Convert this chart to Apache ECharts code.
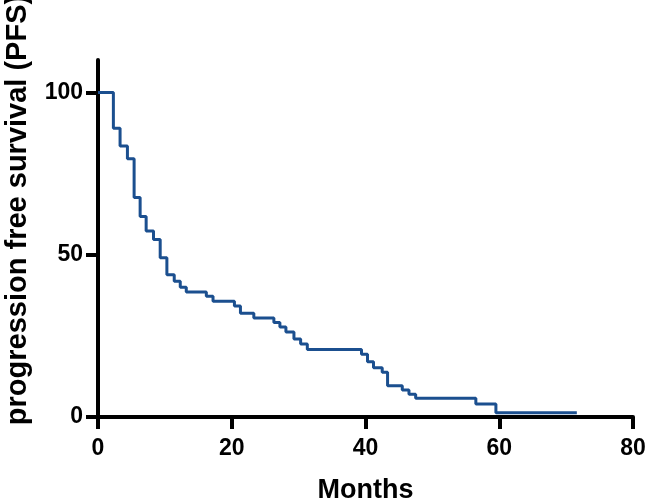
<!DOCTYPE html>
<html>
<head>
<meta charset="utf-8">
<script src="https://cdn.jsdelivr.net/npm/echarts@6/dist/echarts.min.js"></script>
<style>
html,body{margin:0;padding:0;background:#fff;}
#chart{width:650px;height:503px;}
</style>
</head>
<body>
<div id="chart"></div>
<script>
// Kaplan-Meier step points: time (months) and survival (%) after each drop
const months = [0, 2.3, 3.3, 4.4, 5.4, 6.3, 7.2, 8.3, 9.3, 10.3, 11.4, 12.3, 13.2, 16.2, 17.2, 20.4, 21.3, 23.3, 26.3, 27.2, 28.1, 29.3, 30.3, 31.3, 39.4, 40.3, 41.2, 42.5, 43.3, 45.5, 46.5, 47.5, 56.5, 59.5, 71.6];
const pfs = [100, 89.0, 83.5, 79.6, 67.6, 61.8, 57.3, 54.7, 49.1, 43.8, 41.8, 40.0, 38.5, 37.2, 35.7, 34.2, 32.0, 30.5, 29.1, 27.7, 26.2, 24.0, 22.5, 20.8, 19.3, 17.0, 15.2, 13.8, 9.6, 8.3, 7.0, 5.8, 4.0, 1.3, 1.3];
const xTicks = [0, 20, 40, 60, 80];
const yTicks = [0, 50, 100];
const xTitle = 'Months';
const yTitle = 'progression free survival (PFS)';

const chart = echarts.init(document.getElementById('chart'), null, {renderer: 'canvas'});
const font = 'Liberation Sans, Arial, Helvetica, sans-serif';
const seriesData = months.map((m, i) => [m, pfs[i]]);

chart.setOption({
  animation: false,
  backgroundColor: '#fff',
  grid: {left: 98, right: 17, top: 60, bottom: 86, containLabel: false, outerBoundsMode: 'none'},
  xAxis: {
    type: 'value', min: 0, max: 80, interval: 20,
    name: xTitle, nameLocation: 'middle', nameGap: 60,
    nameTextStyle: {fontFamily: font, fontWeight: 'bold', fontSize: 27, color: '#000'},
    axisLine: {show: true, lineStyle: {color: '#000', width: 4}},
    axisTick: {show: true, length: 12, lineStyle: {color: '#000', width: 4}, customValues: xTicks},
    axisLabel: {margin: 20, fontFamily: font, fontWeight: 'bold', fontSize: 23, color: '#000', customValues: xTicks},
    splitLine: {show: false}
  },
  yAxis: {
    type: 'value', min: 0, max: 110,
    axisLine: {show: true, onZero: false, lineStyle: {color: '#000', width: 4}},
    axisTick: {show: true, length: 12, lineStyle: {color: '#000', width: 4}, customValues: yTicks},
    axisLabel: {margin: 15, fontFamily: font, fontWeight: 'bold', fontSize: 23, color: '#000', customValues: yTicks},
    splitLine: {show: false}
  },
  graphic: [{
    type: 'text',
    x: 18, y: 210,
    rotation: Math.PI / 2,
    style: {
      text: yTitle,
      fontFamily: font, fontWeight: 'bold', fontSize: 29, fill: '#000',
      align: 'center', verticalAlign: 'middle'
    }
  }],
  series: [{
    type: 'line',
    step: 'end',
    data: seriesData,
    showSymbol: false,
    symbol: 'none',
    lineStyle: {color: '#1b4f8f', width: 3},
    z: 1
  }]
});
</script>
</body>
</html>
